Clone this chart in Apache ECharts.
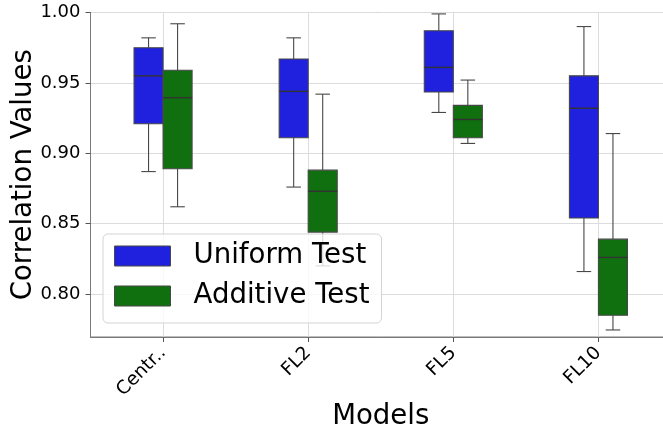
<!DOCTYPE html>
<html>
<head>
<meta charset="utf-8">
<script src="https://cdn.jsdelivr.net/npm/echarts@6/dist/echarts.min.js"></script>
<style>
html,body{margin:0;padding:0;background:#fff;}
#chart{width:663px;height:429px;}
</style>
</head>
<body>
<div id="chart"></div>
<script>
// Data
const categories = ['Centr..', 'FL2', 'FL5', 'FL10'];
const seriesNames = ['Uniform Test', 'Additive Test'];
// each row: [lowWhisker, Q1, median, Q3, highWhisker]
const uniformStats = [
  [0.887, 0.921, 0.955, 0.975, 0.982],
  [0.876, 0.911, 0.944, 0.967, 0.982],
  [0.929, 0.9435, 0.961, 0.987, 0.999],
  [0.816, 0.854, 0.932, 0.955, 0.990]
];
const additiveStats = [
  [0.862, 0.889, 0.9395, 0.959, 0.992],
  [0.820, 0.844, 0.873, 0.888, 0.942],
  [0.907, 0.911, 0.924, 0.934, 0.952],
  [0.7745, 0.785, 0.826, 0.839, 0.914]
];
const yTickLabels = ['0.80', '0.85', '0.90', '0.95', '1.00'];

const FONT = 'DejaVu Sans';
const EDGE = '#474747';

function toData(stats) {
  return stats.map((s, i) => [i].concat(s));
}

function makeRender(offsetFrac, fill) {
  return function (params, api) {
    const cat = api.value(0);
    const lo = api.value(1), q1 = api.value(2), med = api.value(3), q3 = api.value(4), hi = api.value(5);
    const band = api.size([1, 0])[0];
    const cx = api.coord([cat, med])[0] + offsetFrac * band;
    const bw = 0.2 * band, cw = 0.1 * band;
    const yLo = api.coord([cat, lo])[1];
    const yQ1 = api.coord([cat, q1])[1];
    const yMed = api.coord([cat, med])[1];
    const yQ3 = api.coord([cat, q3])[1];
    const yHi = api.coord([cat, hi])[1];
    const ls = { stroke: EDGE, lineWidth: 1.1 };
    return {
      type: 'group',
      children: [
        { type: 'line', shape: { x1: cx, y1: yQ3, x2: cx, y2: yHi }, style: ls },
        { type: 'line', shape: { x1: cx, y1: yQ1, x2: cx, y2: yLo }, style: ls },
        { type: 'line', shape: { x1: cx - cw / 2, y1: yHi, x2: cx + cw / 2, y2: yHi }, style: ls },
        { type: 'line', shape: { x1: cx - cw / 2, y1: yLo, x2: cx + cw / 2, y2: yLo }, style: ls },
        { type: 'rect', shape: { x: cx - bw / 2, y: yQ3, width: bw, height: yQ1 - yQ3 },
          style: { fill: fill, stroke: EDGE, lineWidth: 1.1 } },
        { type: 'line', shape: { x1: cx - bw / 2, y1: yMed, x2: cx + bw / 2, y2: yMed },
          style: { stroke: '#333', lineWidth: 1.4 } }
      ]
    };
  };
}

const chart = echarts.init(document.getElementById('chart'), null, { renderer: 'canvas' });
chart.setOption({
  animation: false,
  backgroundColor: '#fff',
  grid: {
    left: 90.5, top: 12.5, right: -8, bottom: 92,
    outerBoundsMode: 'none',
    containLabel: false,
    show: true, borderColor: '#7a7a7a', borderWidth: 1, backgroundColor: 'transparent'
  },
  legend: {
    orient: 'vertical',
    left: 103, top: 234,
    data: seriesNames,
    icon: 'rect',
    itemWidth: 56, itemHeight: 20, itemGap: 10,
    padding: [7, 12, 12, 11],
    backgroundColor: 'rgba(255,255,255,0.8)',
    borderColor: '#d4d4d4', borderWidth: 1, borderRadius: 5,
    itemStyle: { borderColor: EDGE, borderWidth: 1 },
    textStyle: { fontFamily: FONT, fontSize: 27.6, color: '#000', lineHeight: 30, padding: [0, 0, 0, 18] },
    selectedMode: false
  },
  xAxis: {
    type: 'category',
    data: categories,
    boundaryGap: true,
    name: 'Models',
    nameLocation: 'middle',
    nameGap: 66,
    nameMoveOverlap: false,
    nameTextStyle: { fontFamily: FONT, fontSize: 27.6, color: '#000' },
    axisLine: { show: true, lineStyle: { color: '#7a7a7a', width: 1 } },
    axisTick: { show: true, alignWithLabel: true, length: 5, lineStyle: { color: '#555' } },
    axisLabel: { rotate: 45, fontFamily: FONT, fontSize: 18.5, color: '#000', margin: 13 },
    splitLine: { show: true, alignWithLabel: true, lineStyle: { color: '#dcdcdc', width: 1 } }
  },
  yAxis: {
    type: 'value',
    min: 0.7695, max: 1.0,
    splitNumber: 5,
    name: 'Correlation Values',
    nameLocation: 'middle',
    nameGap: 53,
    nameMoveOverlap: false,
    nameTextStyle: { fontFamily: FONT, fontSize: 27.6, color: '#000' },
    axisLine: { show: true, lineStyle: { color: '#7a7a7a', width: 1 } },
    axisTick: { show: true, length: 5, lineStyle: { color: '#555' } },
    axisLabel: {
      fontFamily: FONT, fontSize: 18, color: '#000', margin: 10,
      showMinLabel: false,
      formatter: function (v) {
        const s = v.toFixed(2);
        return yTickLabels.indexOf(s) >= 0 ? s : '';
      }
    },
    splitLine: { show: true, lineStyle: { color: '#dcdcdc', width: 1 } }
  },
  series: [
    {
      name: seriesNames[0], type: 'custom',
      itemStyle: { color: '#2020df' },
      renderItem: makeRender(-0.1, '#2020df'),
      encode: { x: 0, y: [1, 2, 3, 4, 5] },
      data: toData(uniformStats), z: 2
    },
    {
      name: seriesNames[1], type: 'custom',
      itemStyle: { color: '#107010' },
      renderItem: makeRender(0.1, '#107010'),
      encode: { x: 0, y: [1, 2, 3, 4, 5] },
      data: toData(additiveStats), z: 2
    }
  ]
});
</script>
</body>
</html>
